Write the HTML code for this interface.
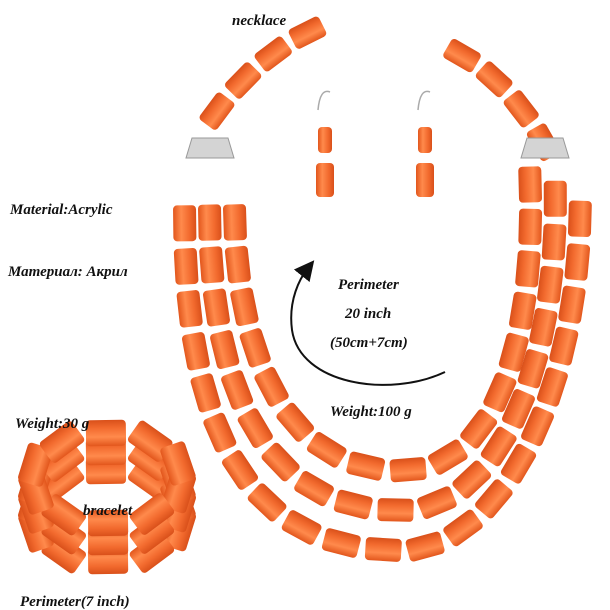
<!DOCTYPE html>
<html><head><meta charset="utf-8"><style>
html,body{margin:0;padding:0;background:#fff;width:610px;height:610px;overflow:hidden}
svg{display:block}
text{font-family:"Liberation Serif",serif;font-style:italic;font-weight:bold;fill:#111}
</style></head><body>
<svg id="s" width="610" height="610" viewBox="0 0 610 610" xmlns="http://www.w3.org/2000/svg">
<defs>
<linearGradient id="g" x1="0" y1="0" x2="1" y2="0">
<stop offset="0" stop-color="#e2561c"/><stop offset="0.35" stop-color="#ff8a4c"/><stop offset="0.7" stop-color="#f26a2e"/><stop offset="1" stop-color="#d9501a"/>
</linearGradient>
<marker id="ah" markerWidth="10" markerHeight="10" refX="5" refY="5" orient="auto"><path d="M0,0 L10,5 L0,10 Z" fill="#111"/></marker>
</defs>
<path d="M318 110 Q320 88 330 92 M418 110 Q420 88 430 92" fill="none" stroke="#aaa" stroke-width="1.5"/>
<g id="beads"></g>
<path d="M445 372 C390 398,300 385,292 330 C288 300,300 278,308 268" fill="none" stroke="#111" stroke-width="2" marker-end="url(#ah)"/>
<text x="232" y="25" font-size="15">necklace</text>
<text x="10" y="214" font-size="15">Material:Acrylic</text>
<text x="8" y="276" font-size="15">Материал: Акрил</text>
<text x="338" y="289" font-size="15">Perimeter</text>
<text x="345" y="318" font-size="15">20 inch</text>
<text x="330" y="347" font-size="15">(50cm+7cm)</text>
<text x="330" y="416" font-size="15">Weight:100 g</text>
<text x="15" y="428" font-size="15">Weight:30 g</text>
<text id="br" x="83" y="515" font-size="15">bracelet</text>
<text x="20" y="606" font-size="15">Perimeter(7 inch)</text>
</svg>
<script>
var G=document.getElementById('beads'),NS='http://www.w3.org/2000/svg';
function bead(x,y,ang,L,W){var g=document.createElementNS(NS,'g');g.setAttribute('transform','translate('+x+','+y+') rotate('+ang+')');
var r=document.createElementNS(NS,'rect');r.setAttribute('x',-W/2);r.setAttribute('y',-L/2);r.setAttribute('width',W);r.setAttribute('height',L);r.setAttribute('rx',4);r.setAttribute('fill','url(#g)');g.appendChild(r);G.appendChild(g);}
function cub(p,t){var u=1-t;return [u*u*u*p[0][0]+3*u*u*t*p[1][0]+3*u*t*t*p[2][0]+t*t*t*p[3][0],u*u*u*p[0][1]+3*u*u*t*p[1][1]+3*u*t*t*p[2][1]+t*t*t*p[3][1]];}
function strand(segs,step,L,W){var pts=[];segs.forEach(function(p){for(var i=0;i<=400;i++)pts.push(cub(p,i/400));});
var acc=0,last=pts[0];for(var i=1;i<pts.length;i++){var d=Math.hypot(pts[i][0]-last[0],pts[i][1]-last[1]);acc+=d;last=pts[i];
if(acc>=step){acc=0;var a=pts[Math.max(0,i-8)],b=pts[Math.min(pts.length-1,i+8)];var ang=Math.atan2(b[1]-a[1],b[0]-a[0])*180/Math.PI-90;bead(pts[i][0],pts[i][1],ang,L,W);}}}
strand([[[195,145],[220,100],[270,40],[340,20]]],40,34,22);
strand([[[425,40],[480,55],[520,100],[545,145]]],40,34,22);
[[210,150],[545,150]].forEach(function(c){var r=document.createElementNS(NS,'path');r.setAttribute('d','M'+(c[0]-18)+' '+(c[1]-12)+' h36 l6 20 h-48 z');r.setAttribute('fill','#d4d4d4');r.setAttribute('stroke','#999');G.appendChild(r);});
for(var i=0;i<3;i++){var lx=235-25*i,rx=530+25*i,by=470+40*i;
strand([[[lx,180],[lx-5,330+30*i],[lx+40,by],[400,by]],[[400,by],[500,by],[rx+5,330+30*i],[rx,180]]],42,36,23);}
bead(325,140,0,26,14);bead(325,180,0,34,18);bead(425,140,0,26,14);bead(425,180,0,34,18);
// bracelet
for(var k=2;k>=0;k--){for(var j=0;j<10;j++){var t=j/10*2*Math.PI+0.3;var x=107+75*Math.cos(t),y=478+k*19+45*Math.sin(t);bead(x,y,t*180/Math.PI,40,26);}}
</script>
</body></html>
